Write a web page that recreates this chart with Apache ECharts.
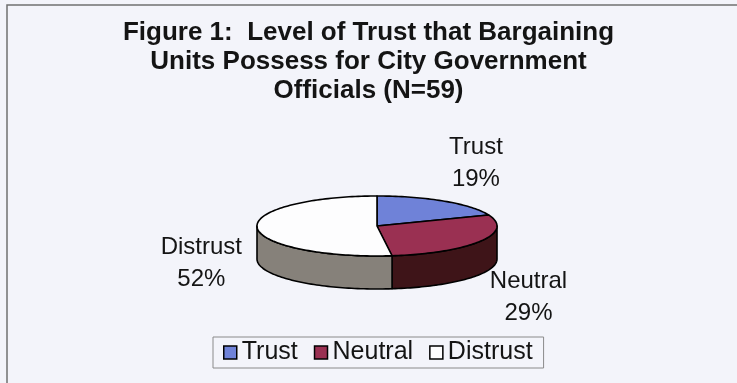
<!DOCTYPE html>
<html>
<head>
<meta charset="utf-8">
<title>Figure 1: Level of Trust</title>
<script src="https://cdn.jsdelivr.net/npm/echarts@6/dist/echarts.min.js"></script>
<style>
  html, body { margin: 0; padding: 0; background: #f3f4fa; }
  #chart { width: 737px; height: 383px; }
</style>
</head>
<body>
<div id="chart"></div>
<script>
// Survey results: trust level toward city government officials (N=59)
const categories = ['Trust', 'Neutral', 'Distrust'];
const shares = [19, 29, 52];               // percent of respondents
const titleLines = [
  'Figure 1:  Level of Trust that Bargaining',
  'Units Possess for City Government',
  'Officials (N=59)'
];

// Face colours for the top of each wedge and its darker rim
const topColors  = ['#6f82d8', '#9a3052', '#fdfdfe'];
const sideColors = ['#3a3f74', '#3e1418', '#86817a'];

const FONT = '"Liberation Sans", Arial, sans-serif';

// Elliptical (tilted) pie geometry
const PIE = { cx: 377, cy: 226, rx: 120, ry: 30, depth: 33 };

const total = shares.reduce((a, b) => a + b, 0);

function point(a, yOff) {
  return [PIE.cx + PIE.rx * Math.sin(a), PIE.cy - PIE.ry * Math.cos(a) + yOff];
}
function arc(a1, a2, yOff) {
  const n = Math.max(2, Math.ceil((a2 - a1) / (Math.PI / 120)));
  const pts = [];
  for (let i = 0; i <= n; i++) pts.push(point(a1 + (a2 - a1) * i / n, yOff));
  return pts;
}

function wedgeRenderer(idx) {
  return function (params, api) {
    const value = api.value(0);
    let before = 0;
    for (let i = 0; i < idx; i++) before += shares[i];
    const a1 = before / total * Math.PI * 2;
    const a2 = (before + value) / total * Math.PI * 2;
    const children = [];

    // visible outer wall: part of the wedge on the front half of the ellipse
    const w1 = Math.max(a1, Math.PI / 2);
    const w2 = Math.min(a2, Math.PI * 1.5);
    if (w1 < w2) {
      const pts = arc(w1, w2, 0).concat(arc(w1, w2, PIE.depth).reverse());
      children.push({
        type: 'polygon',
        shape: { points: pts },
        style: { fill: sideColors[idx], stroke: '#000', lineWidth: 1.6, lineJoin: 'round' }
      });
    }

    // top face
    children.push({
      type: 'polygon',
      shape: { points: [[PIE.cx, PIE.cy]].concat(arc(a1, a2, 0)) },
      style: { fill: topColors[idx], stroke: '#000', lineWidth: 1.6, lineJoin: 'round' }
    });

    // category / percent label placed outside the wedge's middle
    const mid = (a1 + a2) / 2;
    const lx = PIE.cx + (PIE.rx + 56) * Math.sin(mid);
    const ly = PIE.cy - (PIE.ry + 46) * Math.cos(mid) + (Math.cos(mid) < 0 ? PIE.depth : 0);
    children.push({
      type: 'text',
      x: lx,
      y: ly,
      style: {
        text: categories[idx] + '\n' + value + '%',
        fill: '#141414',
        font: '24px ' + FONT,
        lineHeight: 32,
        align: 'center',
        verticalAlign: 'middle'
      }
    });

    return { type: 'group', children: children };
  };
}

const chart = echarts.init(document.getElementById('chart'), null, { renderer: 'canvas' });

chart.setOption({
  backgroundColor: '#f3f4fa',
  animation: false,
  title: {
    text: titleLines.join('\n'),
    left: 'center',
    top: 13,
    textStyle: {
      fontFamily: FONT,
      fontSize: 26,
      fontWeight: 'bold',
      color: '#141414',
      lineHeight: 29
    }
  },
  legend: {
    data: categories,
    left: 213,
    top: 337,
    orient: 'horizontal',
    icon: 'rect',
    itemWidth: 13,
    itemHeight: 13,
    itemGap: 16,
    padding: [3, 11, 3, 10],
    borderColor: '#8a8a8a',
    borderWidth: 1,
    backgroundColor: '#f3f4fa',
    selectedMode: false,
    itemStyle: { borderColor: '#000', borderWidth: 1.5 },
    textStyle: { fontFamily: FONT, fontSize: 25, color: '#141414' }
  },
  graphic: [{
    type: 'rect',
    shape: { x: 7, y: 5, width: 800, height: 500 },
    style: { fill: null, stroke: '#707070', lineWidth: 1.5 },
    silent: true
  }],
  series: categories.map((name, i) => ({
    type: 'custom',
    name: name,
    coordinateSystem: 'none',
    itemStyle: { color: topColors[i] },
    renderItem: wedgeRenderer(i),
    data: [[shares[i]]]
  }))
});
</script>
</body>
</html>
